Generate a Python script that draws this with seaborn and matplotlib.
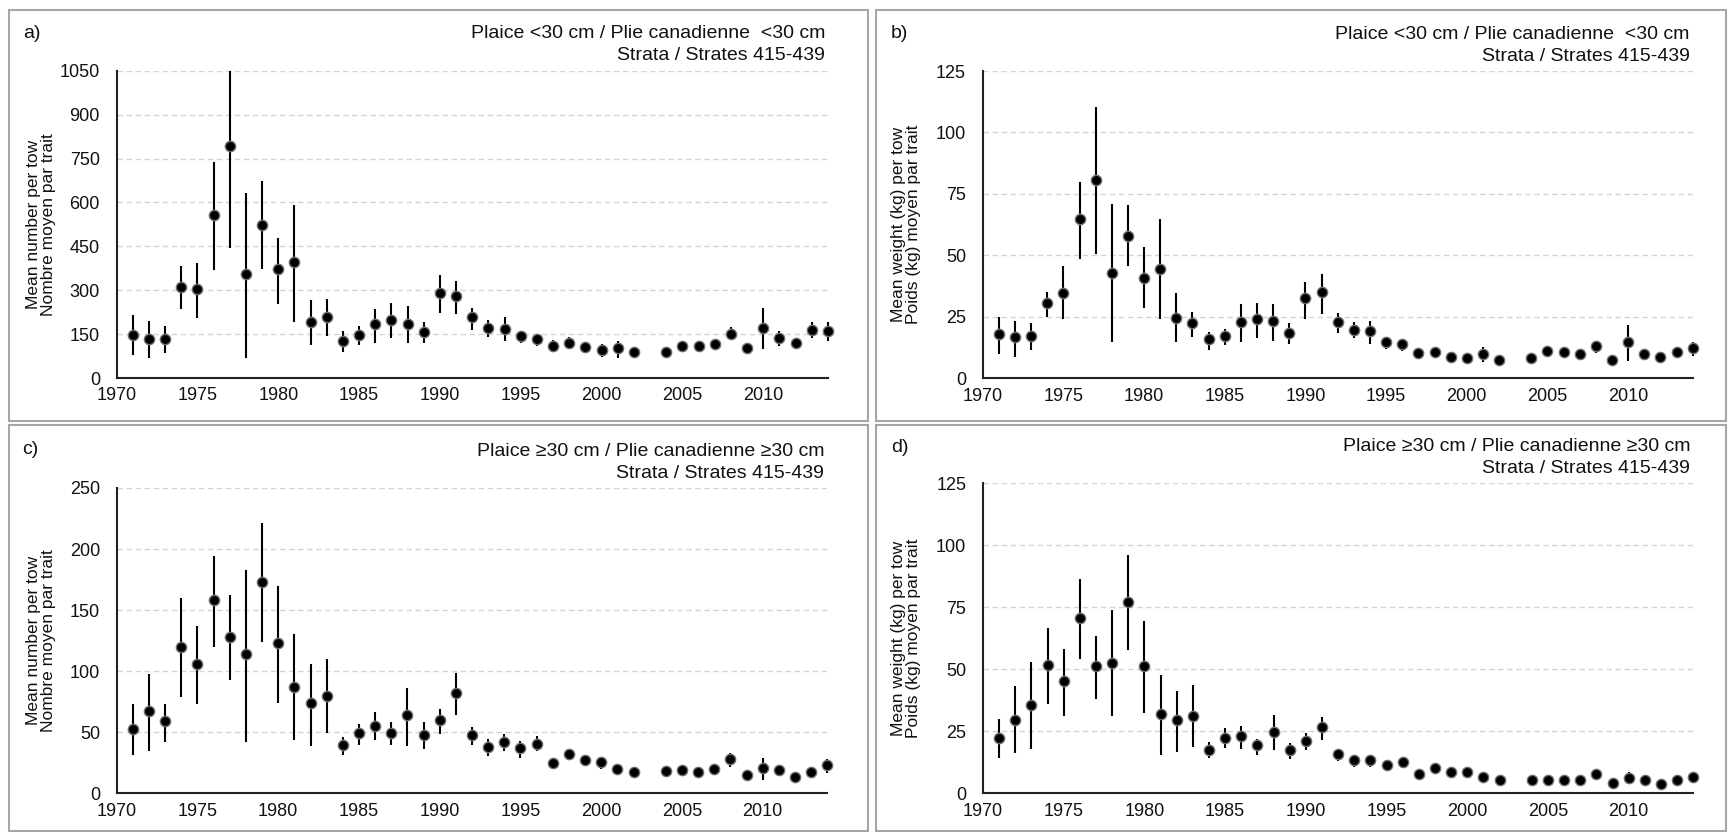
import numpy as np
import pandas as pd
import matplotlib
matplotlib.use("Agg")
import matplotlib.pyplot as plt
from matplotlib.patches import Rectangle
from matplotlib.ticker import MultipleLocator
import seaborn as sns

# ---------------- data ----------------
years = list(range(1971, 2003)) + list(range(2004, 2015))

# a) number per tow, <30 cm
a_mean = [147, 132, 132, 310, 305, 558, 792, 356, 522, 371, 395, 193, 209, 126, 148, 183, 198, 183, 158, 289, 279,
          209, 172, 168, 142, 133, 111, 121, 106, 96, 101, 90, 90, 110, 110, 116, 152, 102, 172, 137, 121, 163, 161]
a_lo = [78, 68, 84, 237, 205, 368, 445, 68, 373, 252, 192, 113, 144, 90, 113, 119, 135, 119, 119, 221, 217,
        165, 140, 125, 119, 109, 90, 99, 84, 73, 67, 79, 78, 94, 88, 94, 130, 86, 99, 111, 101, 137, 125]
a_hi = [214, 194, 178, 382, 393, 739, 1139, 632, 672, 479, 590, 266, 270, 159, 178, 235, 255, 245, 190, 352, 331,
        240, 199, 209, 160, 150, 129, 139, 121, 116, 128, 102, 103, 124, 126, 133, 173, 113, 240, 160, 135, 190, 192]

# b) weight per tow, <30 cm
b_mean = [17.9, 16.7, 17.2, 30.7, 34.9, 64.7, 80.5, 42.7, 57.9, 41.0, 44.6, 24.6, 22.3, 16.0, 17.2, 22.8, 24.0, 23.5,
          18.6, 32.5, 35.0, 22.8, 19.8, 19.1, 14.8, 14.0, 10.2, 10.6, 8.7, 8.1, 10.0, 7.5, 8.1, 11.1, 10.6, 10.0,
          13.2, 7.5, 14.8, 10.0, 8.7, 10.6, 12.5]
b_lo = [9.8, 8.5, 11.5, 24.8, 24.3, 48.7, 50.5, 14.7, 45.5, 28.5, 24.3, 14.7, 16.6, 11.5, 13.4, 14.7, 16.5, 15.3,
        14.0, 24.3, 26.0, 18.3, 16.5, 14.1, 12.0, 11.0, 9.0, 9.5, 7.6, 7.0, 6.8, 6.5, 7.0, 10.0, 9.5, 8.8,
        10.4, 5.4, 7.2, 8.8, 7.6, 9.5, 9.1]
b_hi = [24.8, 23.5, 22.4, 35.0, 45.5, 80.0, 110.3, 71.0, 70.3, 53.3, 64.7, 34.6, 27.1, 19.0, 20.2, 30.1, 30.8, 30.1,
        22.4, 39.3, 42.4, 26.4, 22.8, 23.5, 16.7, 15.3, 11.4, 11.8, 9.8, 9.2, 12.9, 8.5, 9.2, 12.2, 11.7, 11.2,
        14.9, 8.5, 21.7, 11.2, 9.8, 11.7, 14.9]

# c) number per tow, >=30 cm
c_mean = [53, 67.8, 59, 120.2, 105.7, 158.2, 127.6, 114.2, 172.7, 122.7, 87.2, 73.8, 79.8, 39.3, 49.5, 55.5, 49.5,
          63.9, 48.1, 60.4, 82.2, 48.1, 38.2, 41.7, 37.1, 40.6, 24.5, 32.2, 27.3, 25.9, 19.9, 17.2, 18.5, 18.8,
          17.2, 19.9, 28.4, 14.7, 21.0, 18.8, 13.6, 17.2, 23.2]
c_lo = [31.4, 35.0, 42.3, 79.2, 73.2, 119.4, 92.6, 42.3, 124.3, 74.3, 43.7, 38.8, 49.7, 31.4, 39.9, 43.7, 39.9,
        38.8, 36.3, 48.6, 64.5, 39.8, 30.5, 34.4, 29.2, 34.4, 21.0, 27.0, 22.4, 19.6, 16.4, 15.5, 16.5, 16.8,
        15.3, 16.4, 21.8, 12.8, 10.9, 15.5, 11.8, 14.4, 16.9]
c_hi = [73.2, 97.3, 73.2, 159.8, 136.6, 194.3, 162.3, 183.0, 221.3, 169.7, 130.6, 106.0, 109.8, 45.9, 56.8, 66.7,
        58.2, 86.3, 58.2, 69.1, 98.6, 54.3, 44.4, 48.3, 42.5, 46.9, 26.7, 36.0, 30.5, 29.4, 23.2, 19.0, 20.5,
        20.8, 19.1, 22.9, 32.7, 16.6, 28.6, 21.8, 15.4, 19.6, 28.1]

# d) weight per tow, >=30 cm
d_mean = [22.4, 29.7, 35.6, 51.9, 45.3, 70.6, 51.3, 52.6, 77.2, 51.2, 32.0, 29.7, 31.3, 17.6, 22.4, 23.0, 19.4,
          24.9, 17.6, 21.2, 26.6, 15.9, 13.4, 13.4, 11.4, 12.8, 7.9, 10.3, 8.5, 8.6, 6.7, 5.5, 5.5, 5.5, 5.5,
          5.5, 7.9, 4.3, 6.0, 5.5, 3.6, 5.5, 6.7]
d_lo = [14.4, 16.1, 17.9, 36.2, 31.2, 54.0, 37.9, 31.2, 57.7, 32.5, 15.6, 16.8, 18.5, 14.4, 18.4, 18.0, 15.6,
        17.5, 13.7, 17.5, 21.5, 13.2, 10.8, 10.8, 9.7, 11.0, 6.9, 8.3, 7.5, 6.3, 5.7, 4.7, 4.7, 4.7, 4.7,
        4.7, 6.5, 3.5, 4.0, 4.7, 2.9, 4.7, 5.1]
d_hi = [29.8, 43.1, 52.8, 66.5, 58.2, 86.4, 63.6, 73.9, 96.1, 69.6, 47.8, 41.3, 43.7, 20.6, 26.2, 27.3, 21.9,
        31.6, 20.2, 24.5, 30.9, 17.7, 15.1, 15.1, 12.8, 14.5, 8.9, 11.7, 9.5, 10.1, 7.7, 6.3, 6.3, 6.3, 6.3,
        6.3, 9.4, 5.1, 8.7, 6.3, 4.3, 6.3, 8.1]

panel_letters = ["a)", "b)", "c)", "d)"]
title_small = ["Plaice <30 cm / Plie canadienne  <30 cm", "Strata / Strates 415-439"]
title_large = ["Plaice \u226530 cm / Plie canadienne \u226530 cm", "Strata / Strates 415-439"]
ylab_number = "Mean number per tow\nNombre moyen par trait"
ylab_weight = "Mean weight (kg) per tow\nPoids (kg) moyen par trait"

# ---------------- style ----------------
sns.set_theme(style="white")
plt.rcParams['font.family'] = ['Liberation Sans', 'DejaVu Sans']

W, H = 1728, 832
fig = plt.figure(figsize=(W / 100, H / 100), dpi=100)
fig.patch.set_facecolor("white")


def fx(px):
    return px / W


def fy(py):
    return 1 - py / H


panels = [
    dict(mean=a_mean, lo=a_lo, hi=a_hi, ymax=1050, step=150, box=(116.6, 70.7, 828.0, 378.0),
         frame=(9, 10, 868, 421), letter=(23, 33), ylab=ylab_number, ylx=41, title=title_small),
    dict(mean=b_mean, lo=b_lo, hi=b_hi, ymax=125, step=25, box=(982.7, 71.0, 1692.7, 378.3),
         frame=(876, 10, 1726, 421), letter=(891, 33), ylab=ylab_weight, ylx=906, title=title_small),
    dict(mean=c_mean, lo=c_lo, hi=c_hi, ymax=250, step=50, box=(116.7, 488.0, 827.3, 793.3),
         frame=(9, 425, 868, 831), letter=(22, 450), ylab=ylab_number, ylx=41, title=title_large),
    dict(mean=d_mean, lo=d_lo, hi=d_hi, ymax=125, step=25, box=(983.0, 483.3, 1693.3, 793.3),
         frame=(876, 425, 1726, 831), letter=(891, 447), ylab=ylab_weight, ylx=906, title=title_large),
]

for i, p in enumerate(panels):
    # outer grey frame
    x0, y0, x1, y1 = p["frame"]
    fig.patches.append(Rectangle((fx(x0), fy(y1)), (x1 - x0) / W, (y1 - y0) / H,
                                 transform=fig.transFigure, fill=False,
                                 edgecolor="#a6a6a6", linewidth=1.5, zorder=0))
    l, t, r, b = p["box"]
    ax = fig.add_axes([fx(l), fy(b), (r - l) / W, (b - t) / H])
    df = pd.DataFrame({"year": years, "mean": p["mean"], "lo": p["lo"], "hi": p["hi"]})

    ax.set_xlim(1970, 2014)
    ax.set_ylim(0, p["ymax"])
    ax.set_axisbelow(True)
    ax.yaxis.grid(True, linestyle=(0, (4, 2.5)), color="#d4d4d4", linewidth=1.0)
    ax.xaxis.grid(False)

    ax.vlines(df["year"], df["lo"], np.minimum(df["hi"], p["ymax"]), color="black",
              linewidth=1.5, clip_on=False, zorder=3)
    sns.scatterplot(data=df, x="year", y="mean", ax=ax, color="black", s=55,
                    edgecolor="#707070", linewidth=1.0, clip_on=False, zorder=4, legend=False)

    ax.xaxis.set_major_locator(MultipleLocator(5))
    ax.xaxis.set_minor_locator(MultipleLocator(1))
    ax.yaxis.set_major_locator(MultipleLocator(p["step"]))
    ax.tick_params(axis="x", which="major", direction="inout", length=7.5, width=1.1,
                   labelsize=13, pad=3, colors="black")
    ax.tick_params(axis="x", which="minor", direction="in", length=3, width=1.0, colors="black")
    ax.tick_params(axis="y", which="both", length=0, labelsize=13, pad=12, colors="black")
    for lab in ax.get_xticklabels() + ax.get_yticklabels():
        lab.set_color("#111111")

    for s in ["top", "right"]:
        ax.spines[s].set_visible(False)
    for s in ["left", "bottom"]:
        ax.spines[s].set_color("#222222")
        ax.spines[s].set_linewidth(1.5)
    ax.set_xlabel("")
    ax.set_ylabel("")

    # y label
    fig.text(fx(p["ylx"]), fy((t + b) / 2), p["ylab"], rotation=90, ha="center", va="center",
             fontsize=12.5, linespacing=1.0, multialignment="center", color="#111111")
    # panel letter
    fig.text(fx(p["letter"][0]), fy(p["letter"][1]), panel_letters[i], ha="left", va="center",
             fontsize=14, color="#111111")
    # titles
    ax.annotate(p["title"][0], xy=(1, 1), xycoords="axes fraction", xytext=(-3, 37),
                textcoords="offset pixels", ha="right", va="center", fontsize=14, color="#111111",
                annotation_clip=False)
    ax.annotate(p["title"][1], xy=(1, 1), xycoords="axes fraction", xytext=(-3, 15),
                textcoords="offset pixels", ha="right", va="center", fontsize=14, color="#111111",
                annotation_clip=False)

fig.savefig("out.png", dpi=100, facecolor="white")
